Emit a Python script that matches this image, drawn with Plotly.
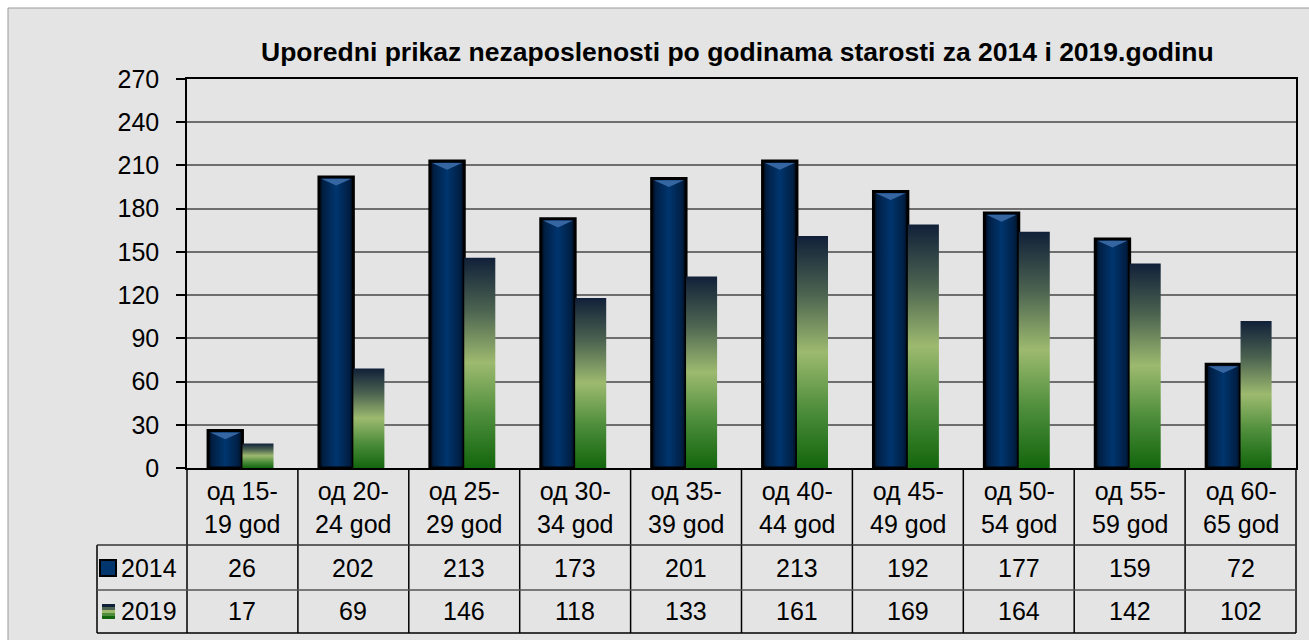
import plotly.graph_objects as go

categories = ["од 15-<br>19 god", "од 20-<br>24 god", "од 25-<br>29 god", "од 30-<br>34 god",
              "од 35-<br>39 god", "од 40-<br>44 god", "од 45-<br>49 god", "од 50-<br>54 god",
              "од 55-<br>59 god", "од 60-<br>65 god"]
series_names = ["2014", "2019"]
v2014 = [26, 202, 213, 173, 201, 213, 192, 177, 159, 72]
v2019 = [17, 69, 146, 118, 133, 161, 169, 164, 142, 102]
yticks = [0, 30, 60, 90, 120, 150, 180, 210, 240, 270]
title = "Uporedni prikaz nezaposlenosti po godinama starosti za 2014 i 2019.godinu"

W, H = 1309, 640
L, R, T, B = 187, 13, 79, 172
PW, PH = W - L - R, H - T - B
FONT = "Liberation Sans, Arial, sans-serif"


def px2x(px):
    return (px - L) / PW


def py2y(py):
    return (H - B - py) / PH


w1 = 0.31
w2 = 0.28
bev = 6

fig = go.Figure()

grad2014 = [[0, "#000814"], [0.12, "#001f44"], [0.5, "#00356e"], [0.88, "#001f44"], [1, "#000814"]]
grad2019 = [[0, "#13660d"], [0.25, "#4d8d3b"], [0.5, "#9dba6f"], [0.75, "#4c6350"], [1, "#112039"]]

for i, v in enumerate(v2014):
    fig.add_trace(go.Scatter(
        x=[i - w1, i - w1, i, i, i - w1], y=[0, v, v, 0, 0],
        fill="toself", mode="lines",
        fillgradient=dict(type="horizontal", colorscale=grad2014),
        line=dict(color="black", width=3),
        hoverinfo="skip", showlegend=False))
    fig.add_trace(go.Scatter(
        x=[i - w1 + 0.02, i - 0.02, i - w1 / 2, i - w1 + 0.02],
        y=[v - 1.3, v - 1.3, v - bev, v - 1.3],
        fill="toself", mode="lines", fillcolor="#3566a2",
        line=dict(width=0, color="rgba(0,0,0,0)"),
        hoverinfo="skip", showlegend=False))

for i, v in enumerate(v2019):
    fig.add_trace(go.Scatter(
        x=[i, i, i + w2, i + w2, i], y=[0, v, v, 0, 0],
        fill="toself", mode="lines",
        fillgradient=dict(type="vertical", colorscale=grad2019),
        line=dict(width=0, color="rgba(0,0,0,0)"),
        hoverinfo="skip", showlegend=False))

shapes = []
shapes.append(dict(type="rect", xref="paper", yref="paper", layer="below",
                   x0=px2x(8), x1=px2x(W + 5), y0=py2y(H + 5), y1=py2y(8),
                   fillcolor="#e4e4e4", line=dict(color="#9a9a9a", width=1)))

n = len(categories)
y_cat = py2y(545)
y_r1 = py2y(590)
y_bot = py2y(633)
x_leg = px2x(97)
for i in range(n + 1):
    shapes.append(dict(type="line", xref="paper", yref="paper",
                       x0=i / n, x1=i / n, y0=0, y1=y_bot,
                       line=dict(color="black", width=1.5)))
shapes.append(dict(type="line", xref="paper", yref="paper",
                   x0=x_leg, x1=x_leg, y0=y_cat, y1=y_bot,
                   line=dict(color="black", width=1.5)))
for yy, col in [(y_cat, "#333333"), (y_r1, "#555555"), (y_bot, "black")]:
    shapes.append(dict(type="line", xref="paper", yref="paper",
                       x0=x_leg, x1=1, y0=yy, y1=yy,
                       line=dict(color=col, width=1.5)))

shapes.append(dict(type="rect", xref="paper", yref="paper",
                   x0=px2x(100), x1=px2x(116), y0=py2y(576), y1=py2y(560),
                   fillcolor="#00356e", line=dict(color="black", width=2)))
key_cols = ["#13660d", "#4d8d3b", "#9dba6f", "#4c6350", "#112039"]
k_top, k_bot = 604, 619
step = (k_bot - k_top) / len(key_cols)
for j, c in enumerate(key_cols):
    shapes.append(dict(type="rect", xref="paper", yref="paper",
                       x0=px2x(102), x1=px2x(115),
                       y0=py2y(k_bot - j * step), y1=py2y(k_bot - (j + 1) * step),
                       fillcolor=c, line=dict(width=0)))

annotations = []
annotations.append(dict(text="<b>" + title + "</b>", xref="paper", yref="paper",
                        x=px2x(737), y=py2y(52), showarrow=False,
                        xanchor="center", yanchor="middle",
                        font=dict(family=FONT, size=26.5, color="black")))
fs = 25
for i, c in enumerate(categories):
    annotations.append(dict(text=c, xref="paper", yref="paper",
                            x=(i + 0.5) / n, y=py2y(507), showarrow=False,
                            xanchor="center", yanchor="middle",
                            font=dict(family=FONT, size=fs, color="black")))
    annotations.append(dict(text=str(v2014[i]), xref="paper", yref="paper",
                            x=(i + 0.5) / n, y=py2y(568), showarrow=False,
                            xanchor="center", yanchor="middle",
                            font=dict(family=FONT, size=fs, color="black")))
    annotations.append(dict(text=str(v2019[i]), xref="paper", yref="paper",
                            x=(i + 0.5) / n, y=py2y(611), showarrow=False,
                            xanchor="center", yanchor="middle",
                            font=dict(family=FONT, size=fs, color="black")))
for name, py in zip(series_names, [568, 611]):
    annotations.append(dict(text=name, xref="paper", yref="paper",
                            x=px2x(119), y=py2y(py), showarrow=False,
                            xanchor="left", yanchor="middle",
                            font=dict(family=FONT, size=fs, color="black")))

fig.update_layout(
    width=W, height=H, autosize=False,
    margin=dict(l=L, r=R, t=T, b=B, pad=0),
    paper_bgcolor="white", plot_bgcolor="#e4e4e4",
    shapes=shapes, annotations=annotations,
    xaxis=dict(range=[-0.5, n - 0.5], showgrid=False, showticklabels=False,
               zeroline=False, showline=True, linecolor="black", linewidth=1.5,
               mirror=True, ticks="", fixedrange=True),
    yaxis=dict(range=[0, 270], tickvals=yticks, ticktext=[str(t) for t in yticks],
               showgrid=True, gridcolor="#6e6e6e", gridwidth=1.5, zeroline=False,
               showline=True, linecolor="black", linewidth=1.5, mirror=True,
               ticks="outside", ticklen=9, tickcolor="black", tickwidth=1.5,
               ticklabelstandoff=12,
               tickfont=dict(family=FONT, size=fs, color="black"), fixedrange=True),
    showlegend=False,
)

fig.write_html("out.html", config={"displayModeBar": False},
               post_script="document.body.style.margin='0';document.body.style.overflow='hidden';")
